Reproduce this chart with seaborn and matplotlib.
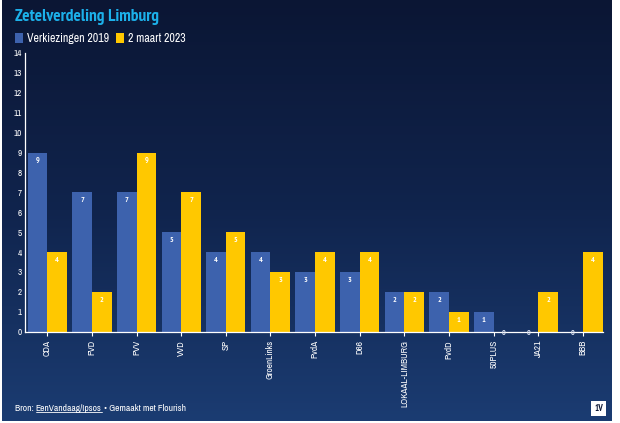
import numpy as np
import pandas as pd
import matplotlib
matplotlib.use("Agg")
import matplotlib.pyplot as plt
import seaborn as sns
from matplotlib import font_manager as fm
from matplotlib.patches import Rectangle

categories = ["CDA", "FVD", "PVV", "VVD", "SP", "GroenLinks", "PvdA", "D66",
              "LOKAAL-LIMBURG", "PvdD", "50PLUS", "JA21", "BBB"]
seats_2019 = [9, 7, 7, 5, 4, 4, 3, 3, 2, 2, 1, 0, 0]
seats_2023 = [4, 2, 9, 7, 5, 3, 4, 4, 2, 1, 0, 2, 4]
series_names = ["Verkiezingen 2019", "2 maart 2023"]
yticks = list(range(0, 15))

BLUE = "#3d62ad"
YELLOW = "#ffc800"
TITLE_C = "#1cb0ea"

sns.set_theme(style="dark")
plt.rcParams["font.family"] = ["Roboto", "DejaVu Sans"]

# look for a condensed / narrow face (prefer narrow)
cands_reg, cands_bold = [], []
for f in fm.fontManager.ttflist:
    fn = f.fname.lower()
    if ("condensed" in fn or "narrow" in fn) and "oblique" not in fn and "italic" not in fn:
        rank = 0 if "narrow" in fn else 1
        if "bold" in fn or f.weight in ("bold", 700):
            cands_bold.append((rank, f.fname))
        else:
            cands_reg.append((rank, f.fname))
cond_reg = sorted(cands_reg)[0][1] if cands_reg else None
cond_bold = sorted(cands_bold)[0][1] if cands_bold else None


def fp(size, bold=False):
    path = cond_bold if bold else cond_reg
    if path:
        return fm.FontProperties(fname=path, size=size)
    return fm.FontProperties(family=["Roboto", "DejaVu Sans"], size=size,
                             weight="bold" if bold else "normal")


W, H = 620, 423
fig = plt.figure(figsize=(W / 100, H / 100), dpi=100, facecolor="white")
fig.canvas.draw()
r = fig.canvas.get_renderer()


def fit_size(text, target_px, bold=False):
    t = fig.text(0, 0, text, fontproperties=fp(10, bold))
    w = t.get_window_extent(r).width
    t.remove()
    return 10 * target_px / w


df = pd.DataFrame({
    "party": categories * 2,
    "seats": seats_2019 + seats_2023,
    "series": [series_names[0]] * len(categories) + [series_names[1]] * len(categories),
})

bg = fig.add_axes([2 / W, 2 / H, 610 / W, 421 / H])
grad = np.linspace(0, 1, 256).reshape(-1, 1)
cmap = matplotlib.colors.LinearSegmentedColormap.from_list("bg", ["#0b1634", "#10244d", "#1b3c72"])
bg.imshow(grad, aspect="auto", cmap=cmap, extent=[0, 1, 0, 1], origin="upper")
bg.set_axis_off()

ax = fig.add_axes([25 / W, (H - 331.7) / H, 578 / W, (331.7 - 53) / H])
ax.set_facecolor("none")
sns.barplot(data=df, x="party", y="seats", hue="series", order=categories,
            hue_order=series_names, palette=[BLUE, YELLOW], width=0.88,
            saturation=1, ax=ax, legend=False, edgecolor="none", linewidth=0)

tick_size = min(fit_size("LOKAAL-LIMBURG", 67), 7.5)
ax.set_xlim(-0.5, 12.45)
ax.set_ylim(0, 14)
ax.set_yticks(yticks)
ax.set_yticklabels([str(t) for t in yticks], color="white", fontproperties=fp(6.5))
ax.set_xticks(range(len(categories)))
ax.set_xticklabels(categories, rotation=90, color="white", fontproperties=fp(tick_size))
ax.tick_params(axis="x", length=3, width=0.8, color="white", pad=3, bottom=True)
ax.tick_params(axis="y", length=0, pad=2.5)
ax.set_xlabel("")
ax.set_ylabel("")
ax.grid(False)
for s in ["top", "right"]:
    ax.spines[s].set_visible(False)
for s in ["left", "bottom"]:
    ax.spines[s].set_visible(True)
    ax.spines[s].set_color("white")
    ax.spines[s].set_linewidth(0.9)

for cont in ax.containers:
    for p in cont:
        h = p.get_height()
        xc = p.get_x() + p.get_width() / 2
        if h > 0:
            ax.annotate(f"{int(round(h))}", (xc, h), xytext=(0, -6), textcoords="offset points",
                        ha="center", va="center", color="white", fontproperties=fp(5.8, True))
        else:
            ax.annotate("0", (xc, 0), xytext=(0, -1.5), textcoords="offset points",
                        ha="center", va="center", color="#dfe6f5", fontproperties=fp(5.8, True))

title_size = fit_size("Zetelverdeling Limburg", 145, True)
fig.text(15 / W, 1 - 17 / H, "Zetelverdeling Limburg", color=TITLE_C,
         fontproperties=fp(title_size, True), va="center", ha="left")

leg_size = fit_size(series_names[0], 82)
x = 15
for name, col in zip(series_names, [BLUE, YELLOW]):
    fig.patches.append(Rectangle((x / W, 1 - 43 / H), 8 / W, 10 / H, transform=fig.transFigure,
                                 facecolor=col, edgecolor="none"))
    t = fig.text((x + 12) / W, 1 - 38 / H, name, color="white", fontproperties=fp(leg_size),
                 va="center", ha="left")
    x = t.get_window_extent(r).x1 + 7

# footer
foot_size = fit_size("Bron: EenVandaag/Ipsos \u2022 Gemaakt met Flourish", 170)
t1 = fig.text(15 / W, 1 - 408 / H, "Bron: ", color="white", fontproperties=fp(foot_size),
              va="center", ha="left")
bb = t1.get_window_extent(r)
t2 = fig.text(bb.x1 / W, 1 - 408 / H, "EenVandaag/Ipsos", color="white",
              fontproperties=fp(foot_size), va="center", ha="left")
bb2 = t2.get_window_extent(r)
fig.add_artist(plt.Line2D([bb2.x0 / W, bb2.x1 / W], [(bb2.y0 + 0.3) / H] * 2, color="white",
                          lw=0.6, transform=fig.transFigure))
fig.text(bb2.x1 / W, 1 - 408 / H, " \u2022 Gemaakt met Flourish", color="white",
         fontproperties=fp(foot_size), va="center", ha="left")

fig.patches.append(Rectangle((591 / W, 1 - 416 / H), 15 / W, 15 / H, transform=fig.transFigure,
                             facecolor="white", edgecolor="none"))
fig.text(598.5 / W, 1 - 408.5 / H, "1V", color="#0b1634", fontproperties=fp(6.5, True),
         va="center", ha="center")

fig.savefig("out.png", dpi=100, facecolor="white")
